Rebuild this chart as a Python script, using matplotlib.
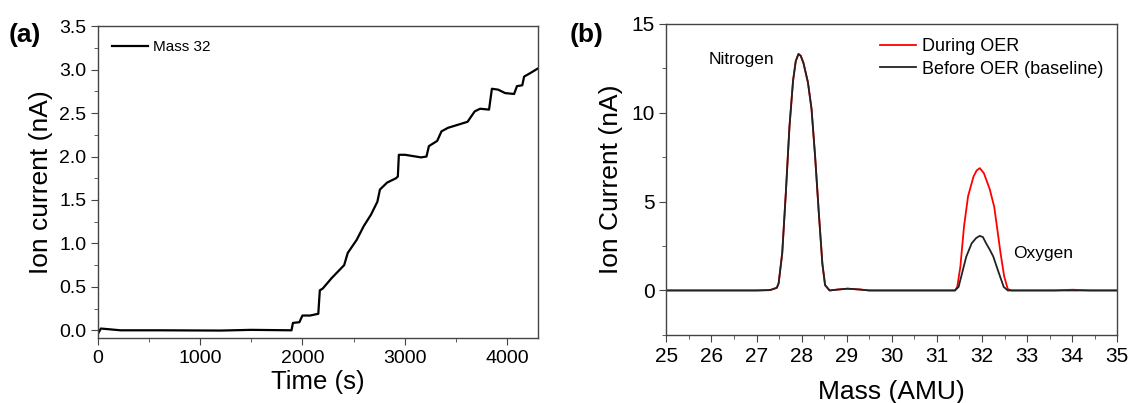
import numpy as np
import matplotlib
matplotlib.use('Agg')
import matplotlib.pyplot as plt
from matplotlib.ticker import MultipleLocator

plt.rcParams['font.family'] = ['Liberation Sans', 'DejaVu Sans']

# (a) Mass 32 ion current vs time
time_s = [0, 28, 80, 220, 600, 1200, 1500, 1893, 1907, 1970, 2000, 2075, 2155, 2170,
          2198, 2285, 2408, 2443, 2530, 2600, 2670, 2733, 2758, 2828, 2915, 2933, 2943,
          3003, 3160, 3213, 3237, 3318, 3360, 3423, 3615, 3685, 3738, 3825, 3853, 3913,
          3983, 4070, 4098, 4150, 4168, 4228, 4298]
mass32 = [-0.04, 0.02, 0.015, 0.0, 0.0, -0.003, 0.005, 0.0, 0.085, 0.093, 0.17, 0.17, 0.19, 0.46,
          0.48, 0.6, 0.75, 0.89, 1.04, 1.2, 1.33, 1.48, 1.62, 1.70, 1.75, 1.77, 2.02,
          2.02, 1.99, 2.0, 2.12, 2.18, 2.29, 2.33, 2.40, 2.52, 2.55, 2.54, 2.78, 2.77,
          2.73, 2.72, 2.81, 2.82, 2.92, 2.96, 3.01]

# (b) mass spectrum
mass_base = [25.0, 27.0, 27.3, 27.45, 27.49, 27.57, 27.65, 27.73, 27.81, 27.87, 27.93, 27.98, 28.04,
             28.14, 28.22, 28.30, 28.38, 28.46, 28.52, 28.62, 28.8, 29.02, 29.3, 29.5, 31.3, 31.4,
             31.48, 31.56, 31.65, 31.77, 31.87, 31.95, 32.02, 32.09, 32.17, 32.25, 32.37, 32.48,
             32.57, 33.5, 35.0]
before_oer = [0.0, 0.0, 0.02, 0.15, 0.4, 2.1, 5.5, 9.2, 11.8, 12.9, 13.3, 13.2, 12.8,
              11.7, 10.2, 7.5, 4.4, 1.5, 0.3, 0.0, 0.05, 0.1, 0.05, 0.0, 0.0, 0.0,
              0.2, 1.0, 1.9, 2.65, 2.95, 3.07, 3.0, 2.65, 2.3, 1.9, 1.0, 0.2,
              0.0, 0.0, 0.0]

mass_oer = [25.0, 27.0, 27.3, 27.45, 27.49, 27.57, 27.65, 27.73, 27.81, 27.87, 27.93, 27.98, 28.04,
            28.14, 28.22, 28.30, 28.38, 28.46, 28.52, 28.62, 28.8, 29.02, 29.3, 29.5, 31.3, 31.4,
            31.45, 31.52, 31.6, 31.69, 31.81, 31.88, 31.95, 32.04, 32.17, 32.27, 32.33, 32.41,
            32.49, 32.57, 32.65, 33.6, 34.0, 34.4, 35.0]
during_oer = [0.0, 0.0, 0.02, 0.15, 0.4, 2.1, 5.5, 9.2, 11.8, 12.9, 13.3, 13.2, 12.8,
              11.7, 10.2, 7.5, 4.4, 1.5, 0.3, 0.0, 0.05, 0.1, 0.05, 0.0, 0.0, 0.0,
              0.2, 1.35, 3.6, 5.3, 6.4, 6.75, 6.88, 6.6, 5.7, 4.7, 3.6, 2.1,
              0.8, 0.08, 0.0, 0.0, 0.04, 0.0, 0.0]

fig = plt.figure(figsize=(11.39, 4.03), dpi=100)
ax1 = fig.add_axes([0.086, 0.161, 0.386, 0.774])
ax2 = fig.add_axes([0.585, 0.169, 0.396, 0.772])

spine_c = '#444444'
for ax in (ax1, ax2):
    for s in ax.spines.values():
        s.set_color(spine_c)
        s.set_linewidth(1.0)
    ax.tick_params(which='both', direction='out', color=spine_c, top=False, right=False)
    ax.tick_params(which='major', length=5)
    ax.tick_params(which='minor', length=3)
ax1.tick_params(which='major', labelsize=14)
ax2.tick_params(which='major', labelsize=15)

# panel a
ax1.plot(time_s, mass32, color='black', lw=1.6, label='Mass 32')
ax1.set_xlim(0, 4300)
ax1.set_ylim(-0.09, 3.5)
ax1.xaxis.set_major_locator(MultipleLocator(1000))
ax1.xaxis.set_minor_locator(MultipleLocator(500))
ax1.yaxis.set_major_locator(MultipleLocator(0.5))
ax1.yaxis.set_minor_locator(MultipleLocator(0.25))
ax1.yaxis.set_major_formatter(matplotlib.ticker.FormatStrFormatter('%.1f'))
ax1.set_xlabel('Time (s)', fontsize=18.5, labelpad=2)
ax1.set_ylabel('Ion current (nA)', fontsize=19, labelpad=4)
ax1.legend(loc='upper left', frameon=False, fontsize=11, handlelength=2.4,
           handletextpad=0.3, borderaxespad=0.5)
fig.text(0.008, 0.895, '(a)', fontsize=19, fontweight='bold')

# panel b
ax2.plot(mass_oer, during_oer, color='red', lw=1.3, label='During OER')
ax2.plot(mass_base, before_oer, color='#222222', lw=1.3, label='Before OER (baseline)')
ax2.set_xlim(25, 35)
ax2.set_ylim(-2.5, 15)
ax2.xaxis.set_major_locator(MultipleLocator(1))
ax2.xaxis.set_minor_locator(MultipleLocator(0.5))
ax2.yaxis.set_major_locator(MultipleLocator(5))
ax2.yaxis.set_minor_locator(MultipleLocator(2.5))
ax2.set_xlabel('Mass (AMU)', fontsize=19, labelpad=10)
ax2.set_ylabel('Ion Current (nA)', fontsize=19, labelpad=6)
ax2.legend(loc='upper right', frameon=False, fontsize=13, handlelength=2.0,
           handletextpad=0.3, labelspacing=0.3, borderaxespad=0.4)
ax2.text(25.94, 13.0, 'Nitrogen', fontsize=12.5, va='center')
ax2.text(32.69, 2.06, 'Oxygen', fontsize=12.5, va='center')
fig.text(0.5, 0.895, '(b)', fontsize=19, fontweight='bold')

fig.savefig('out.png', dpi=100)
